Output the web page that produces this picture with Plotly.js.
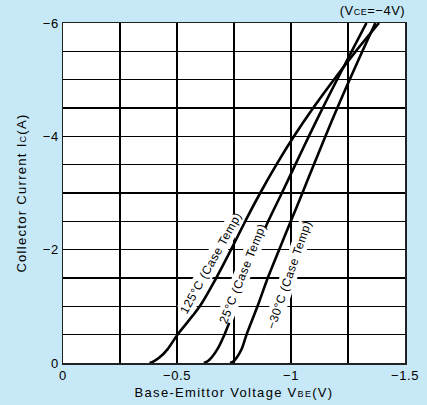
<!DOCTYPE html>
<html>
<head>
<meta charset="utf-8">
<script src="https://cdn.plot.ly/plotly-3.0.1.min.js"></script>
<style>
html,body{margin:0;padding:0;background:#c7e8f7;}
#chart{width:427px;height:405px;}
#chart .xtitle, #chart .ytitle{letter-spacing:1.3px;}
#chart .xtick text, #chart .ytick text{letter-spacing:0.6px;}
#chart .annotation-text{letter-spacing:0.5px;}
</style>
</head>
<body>
<div id="chart"></div>
<script>
// Collector current Ic (A)
const current = [0, -0.03, -0.1, -0.25, -0.5, -1, -1.5, -2, -2.5, -3, -3.5, -4, -4.5, -5, -5.5, -6];
// Base-emitter voltage VBE (V) for each case temperature
const vbe125 = [-0.380, -0.398, -0.424, -0.460, -0.502, -0.600, -0.672, -0.737, -0.799, -0.865, -0.936, -1.013, -1.097, -1.188, -1.284, -1.386];
const vbe25  = [-0.618, -0.634, -0.652, -0.678, -0.708, -0.757, -0.802, -0.848, -0.900, -0.960, -1.019, -1.078, -1.139, -1.202, -1.266, -1.331];
const vbeM30 = [-0.733, -0.748, -0.763, -0.784, -0.805, -0.853, -0.898, -0.948, -0.999, -1.050, -1.100, -1.151, -1.203, -1.257, -1.313, -1.370];
const curveLabels = ["125°C (Case Temp)", "25°C (Case Temp)", "−30°C (Case Temp)"];
const labelV = [-0.648, -0.789, -0.991];
const labelI = [-1.77, -1.59, -1.56];
const labelAngle = [-61, -68, -71];
const xTicks = [0, -0.25, -0.5, -0.75, -1, -1.25, -1.5];
const xTickText = ["0", "", "−0.5", "", "−1", "", "−1.5"];
const yTicks = [0, -0.5, -1, -1.5, -2, -2.5, -3, -3.5, -4, -4.5, -5, -5.5, -6];
const yTickText = ["0", "", "", "", "−2", "", "", "", "−4", "", "", "", "−6"];

const font = "Liberation Sans, Arial, sans-serif";
const series = [vbe125, vbe25, vbeM30];
const traces = series.map(v => ({
  x: v, y: current, type: "scatter", mode: "lines",
  line: {color: "#000", width: 2.6, shape: "spline", smoothing: 0.9},
  hoverinfo: "skip", showlegend: false
}));

const annotations = curveLabels.map((t, i) => ({
  x: labelV[i], y: labelI[i], xref: "x", yref: "y",
  text: t, showarrow: false, textangle: labelAngle[i],
  font: {family: font, size: 12, color: "#000"},
  bgcolor: "#fff", borderpad: 1
}));
annotations.push({
  xref: "paper", yref: "paper", x: 1, y: 1, yshift: 3, xanchor: "right", yanchor: "bottom",
  text: "(V<span style='font-size:9px'>CE</span>=−4V)", showarrow: false,
  font: {family: font, size: 13, color: "#000"}
});

const layout = {
  width: 427, height: 405,
  margin: {l: 63, r: 22, t: 23, b: 42},
  paper_bgcolor: "#c7e8f7", plot_bgcolor: "#fff",
  font: {family: font, size: 13, color: "#000"},
  xaxis: {
    range: [0, -1.5], tickvals: xTicks, ticktext: xTickText, ticks: "",
    showgrid: true, gridcolor: "#000", gridwidth: 1.3, zeroline: false,
    showline: true, linecolor: "#222", linewidth: 1.5, mirror: true,
    tickfont: {family: font, size: 13},
    title: {text: "Base-Emittor Voltage V<span style='font-size:9px'>BE</span>(V)", font: {family: font, size: 13}, standoff: 6}
  },
  yaxis: {
    range: [0, -6], tickvals: yTicks, ticktext: yTickText, ticks: "",
    showgrid: true, gridcolor: "#000", gridwidth: 1.3, zeroline: false,
    showline: true, linecolor: "#222", linewidth: 1.5, mirror: true,
    tickfont: {family: font, size: 13},
    title: {text: "Collector Current I<span style='font-size:9px'>C</span>(A)", font: {family: font, size: 13}, standoff: 14}
  },
  annotations: annotations
};

Plotly.newPlot("chart", traces, layout, {staticPlot: true, displayModeBar: false});
</script>
</body>
</html>
